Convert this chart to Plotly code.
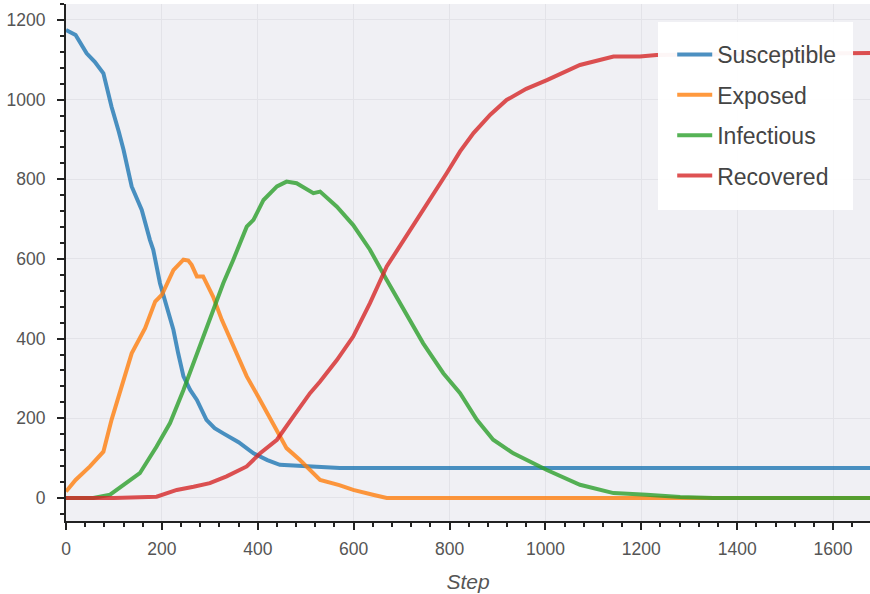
import plotly.graph_objects as go

# ---- data ----
susceptible_steps = [0, 20, 43, 60, 78, 95, 110, 120, 137, 158, 175, 182, 196, 210, 224, 234, 245,
                     259, 273, 293, 310, 328, 360, 391, 420, 446, 480, 530, 571, 620, 1677]
susceptible_vals = [1175, 1162, 1116, 1095, 1066, 982, 920, 874, 782, 723, 648, 623, 539, 480, 422, 363, 305,
                    271, 246, 196, 175, 162, 140, 112, 95, 83, 81, 79, 75, 75, 75]

exposed_steps = [0, 20, 50, 78, 95, 116, 137, 165, 186, 200, 224, 245, 255, 262, 273, 286, 307, 325,
                 349, 377, 401, 432, 460, 488, 530, 570, 599, 640, 669, 700, 1677]
exposed_vals = [16, 45, 79, 116, 196, 279, 363, 426, 493, 510, 572, 598, 596, 585, 556, 556, 505, 447,
                380, 305, 254, 188, 125, 95, 45, 32, 20, 8, 0, 0, 0]

infectious_steps = [0, 57, 92, 127, 154, 189, 217, 245, 273, 300, 328, 349, 377, 391, 412, 440, 460,
                    481, 500, 516, 530, 565, 599, 634, 669, 704, 745, 787, 822, 857, 891, 933, 1003,
                    1072, 1142, 1211, 1281, 1350, 1677]
infectious_vals = [0, 0, 8, 37, 62, 129, 188, 271, 363, 447, 539, 598, 681, 698, 748, 782, 794,
                   790, 775, 765, 769, 731, 685, 623, 547, 472, 388, 313, 263, 196, 146, 112, 70,
                   33, 12, 8, 2, 0, 0]

recovered_steps = [0, 100, 189, 231, 266, 300, 335, 377, 405, 440, 474, 509, 530, 565, 599, 634,
                   669, 704, 745, 794, 822, 850, 885, 919, 960, 1003, 1072, 1142, 1197, 1232, 1677]
recovered_vals = [0, 0, 3, 20, 28, 37, 54, 79, 112, 146, 204, 263, 292, 346, 405, 489,
                  581, 648, 723, 815, 870, 916, 962, 999, 1027, 1049, 1087, 1108, 1108, 1112, 1117]

series_names = ["Susceptible", "Exposed", "Infectious", "Recovered"]
series_colors = ["#1f77b4", "#ff7f0e", "#2ca02c", "#d62728"]
series_steps = [susceptible_steps, exposed_steps, infectious_steps, recovered_steps]
series_vals = [susceptible_vals, exposed_vals, infectious_vals, recovered_vals]

FONT = "Liberation Sans, Arial, sans-serif"

fig = go.Figure()
for name, color, xs, ys in zip(series_names, series_colors, series_steps, series_vals):
    fig.add_trace(go.Scatter(x=xs, y=ys, mode="lines", name=name, legendgroup=name,
                             line=dict(color=color, width=4), opacity=0.8))

axis_common = dict(
    showline=True, linecolor="#222222", linewidth=2,
    ticks="outside", ticklen=7, tickwidth=1.5, tickcolor="#222222",
    showgrid=True, gridcolor="#e3e3e8", gridwidth=1,
    zeroline=False,
    tickfont=dict(family=FONT, size=17.5, color="#555555"),
    minor=dict(ticks="outside", ticklen=4, tickwidth=1.5, tickcolor="#222222", dtick=40, showgrid=False),
)

# legend background box (white, slightly transparent)
fig.add_shape(type="rect", xref="paper", yref="paper",
              x0=0.7363, x1=0.9789, y0=0.6015, y1=0.9652,
              fillcolor="rgba(255,255,255,0.95)", line=dict(width=0), layer="above")

fig.update_layout(
    width=870, height=594,
    margin=dict(l=66, r=0, t=4, b=73),
    paper_bgcolor="white",
    plot_bgcolor="#f0f0f4",
    xaxis=dict(range=[0, 1677], dtick=200, tick0=0, ticklabelstandoff=4,
               title=dict(text="Step", standoff=16,
                          font=dict(family=FONT, size=21, color="#555555", style="italic")),
               **axis_common),
    yaxis=dict(range=[-58, 1240], dtick=200, tick0=0, ticklabelstandoff=8, **axis_common),
    showlegend=True,
    legend=dict(x=0.754, y=0.944, xanchor="left", yanchor="top",
                bgcolor="rgba(0,0,0,0)", borderwidth=0,
                font=dict(family=FONT, size=23, color="#444444"),
                tracegroupgap=7.5, itemwidth=35),
)

fig.write_html("out.html")
